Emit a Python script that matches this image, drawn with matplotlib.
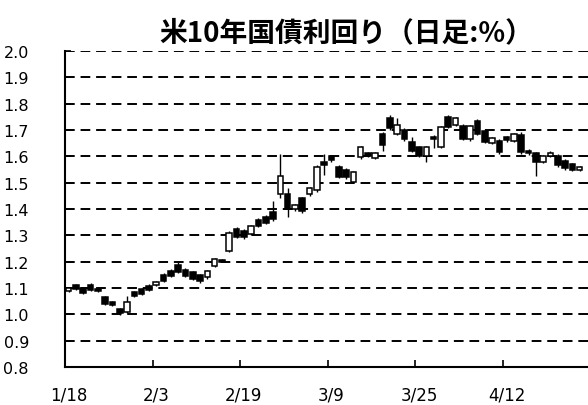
import numpy as np
import pandas as pd
import matplotlib
matplotlib.use("Agg")
import matplotlib.pyplot as plt

# daily candles (weekdays from 2021-01-18), yield in %
opens = [1.090, 1.110, 1.100, 1.112, 1.096, 1.066, 1.048, 1.020, 1.008, 1.084,
         1.096, 1.108, 1.110, 1.150, 1.166, 1.188, 1.170, 1.160, 1.150, 1.140,
         1.184, 1.206, 1.240, 1.324, 1.318, 1.306, 1.360, 1.370, 1.390, 1.456,
         1.456, 1.400, 1.440, 1.456, 1.472, 1.580, 1.600, 1.560, 1.550, 1.504,
         1.596, 1.612, 1.592, 1.686, 1.746, 1.686, 1.700, 1.656, 1.636, 1.600,
         1.672, 1.636, 1.750, 1.720, 1.716, 1.666, 1.736, 1.696, 1.652, 1.660,
         1.672, 1.660, 1.680, 1.622, 1.612, 1.580, 1.600, 1.602, 1.582, 1.570,
         1.550]
highs = [1.102, 1.116, 1.104, 1.120, 1.100, 1.070, 1.052, 1.024, 1.068, 1.090,
         1.100, 1.114, 1.126, 1.156, 1.172, 1.202, 1.176, 1.166, 1.154, 1.170,
         1.214, 1.210, 1.316, 1.330, 1.324, 1.340, 1.366, 1.376, 1.430, 1.610,
         1.480, 1.420, 1.446, 1.484, 1.566, 1.610, 1.606, 1.566, 1.556, 1.544,
         1.640, 1.616, 1.618, 1.692, 1.756, 1.746, 1.706, 1.672, 1.640, 1.640,
         1.680, 1.716, 1.756, 1.748, 1.722, 1.720, 1.742, 1.702, 1.672, 1.666,
         1.676, 1.690, 1.692, 1.626, 1.616, 1.604, 1.620, 1.608, 1.588, 1.576,
         1.564]
lows = [1.086, 1.092, 1.078, 1.088, 1.086, 1.036, 1.030, 0.996, 1.004, 1.064,
        1.072, 1.088, 1.106, 1.124, 1.140, 1.158, 1.140, 1.130, 1.120, 1.134,
        1.180, 1.198, 1.236, 1.290, 1.286, 1.300, 1.330, 1.342, 1.356, 1.440,
        1.370, 1.394, 1.386, 1.450, 1.466, 1.530, 1.580, 1.516, 1.514, 1.498,
        1.590, 1.598, 1.588, 1.620, 1.700, 1.680, 1.660, 1.616, 1.596, 1.580,
        1.630, 1.630, 1.706, 1.716, 1.662, 1.660, 1.680, 1.650, 1.646, 1.610,
        1.656, 1.654, 1.610, 1.606, 1.526, 1.574, 1.596, 1.560, 1.550, 1.544,
        1.546]
closes = [1.100, 1.096, 1.082, 1.092, 1.090, 1.040, 1.034, 1.004, 1.046, 1.068,
          1.076, 1.092, 1.122, 1.128, 1.146, 1.162, 1.146, 1.136, 1.126, 1.164,
          1.210, 1.200, 1.310, 1.294, 1.292, 1.336, 1.336, 1.346, 1.362, 1.526,
          1.400, 1.416, 1.392, 1.480, 1.560, 1.566, 1.586, 1.520, 1.520, 1.540,
          1.636, 1.602, 1.614, 1.642, 1.706, 1.720, 1.666, 1.622, 1.602, 1.636,
          1.664, 1.710, 1.712, 1.744, 1.666, 1.716, 1.686, 1.656, 1.668, 1.616,
          1.662, 1.686, 1.616, 1.612, 1.580, 1.600, 1.614, 1.566, 1.556, 1.548,
          1.560]

dates = pd.bdate_range("2021-01-18", periods=len(opens))
label_every = 12
y_ticks = [0.8, 0.9, 1.0, 1.1, 1.2, 1.3, 1.4, 1.5, 1.6, 1.7, 1.8, 1.9, 2.0]

W, H = 588, 406
fig = plt.figure(figsize=(W / 100, H / 100), dpi=100)
ax = fig.add_axes([65 / W, 38 / H, (W - 65) / W, 316 / H])

x = np.arange(len(opens))
o = np.array(opens)
c = np.array(closes)
up = c >= o

ax.vlines(x, lows, highs, color="black", lw=1.0, zorder=3)
ax.bar(x[up], (c - o)[up], bottom=o[up], width=0.76, color="white",
       edgecolor="black", lw=1.1, zorder=4)
ax.bar(x[~up], (c - o)[~up], bottom=o[~up], width=0.76, color="black",
       edgecolor="black", lw=1.1, zorder=4)

ax.set_ylim(0.8, 2.0)
ax.set_xlim(-0.5, -0.5 + (W - 65) / 7.3)
ax.set_yticks(y_ticks)
ax.set_yticklabels([f"{v:.1f}" for v in y_ticks])

lab_pos = x[::label_every]
ax.set_xticks(lab_pos[1:] - 0.5)
ax.set_xticklabels([])
ax.set_xticks(lab_pos, minor=True)
ax.set_xticklabels([f"{d.month}/{d.day}" for d in dates[::label_every]], minor=True)

ax.grid(axis="y", color="black", lw=1.4, linestyle=(0, (5, 3)), zorder=1)
ax.set_axisbelow(True)

for s in ["top", "right"]:
    ax.spines[s].set_visible(False)
for s in ["left", "bottom"]:
    ax.spines[s].set_linewidth(1.5)
    ax.spines[s].set_zorder(5)

tick_font = ["Liberation Sans Narrow", "DejaVu Sans"]
ax.tick_params(axis="y", direction="in", length=4, width=1.2, labelsize=11.5, pad=26)
ax.tick_params(axis="x", which="major", direction="in", length=5, width=1.2)
ax.tick_params(axis="x", which="minor", length=0, labelsize=12, pad=13)
for t in ax.get_yticklabels() + ax.get_xticklabels(minor=True):
    t.set_fontfamily(tick_font)

fig.text(346 / W, 1 - 33 / H, "米10年国債利回り（日足:%）", ha="center", va="center",
         fontsize=20, fontweight="bold", family=["Noto Sans CJK JP", "DejaVu Sans"])

fig.savefig("out.png", dpi=100)
